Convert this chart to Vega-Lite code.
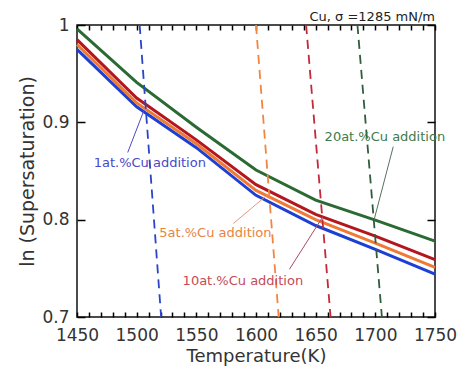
{
  "$schema": "https://vega.github.io/schema/vega-lite/v6.json",
  "width": 358,
  "height": 292,
  "autosize": "none",
  "padding": {"left": 77, "top": 25, "right": 28, "bottom": 54},
  "background": "white",
  "config": {
    "font": "DejaVu Sans",
    "view": {"stroke": "#111", "strokeWidth": 1.5},
    "axis": {"domain": false, "grid": false, "labelFlush": false, "labelOverlap": false}
  },
  "title": {
    "text": "Cu,  σ =1285 mN/m",
    "anchor": "end",
    "frame": "group",
    "fontSize": 13,
    "fontWeight": "normal",
    "color": "#222",
    "offset": -8
  },
  "datasets": {
    "curves": [
      {"s": "1", "T": 1450, "v": 0.975}, {"s": "1", "T": 1500, "v": 0.916}, {"s": "1", "T": 1550, "v": 0.874}, {"s": "1", "T": 1600, "v": 0.825}, {"s": "1", "T": 1650, "v": 0.794}, {"s": "1", "T": 1700, "v": 0.7695}, {"s": "1", "T": 1750, "v": 0.744},
      {"s": "5", "T": 1450, "v": 0.980}, {"s": "5", "T": 1500, "v": 0.920}, {"s": "5", "T": 1550, "v": 0.878}, {"s": "5", "T": 1600, "v": 0.830}, {"s": "5", "T": 1650, "v": 0.800}, {"s": "5", "T": 1700, "v": 0.776}, {"s": "5", "T": 1750, "v": 0.751},
      {"s": "10", "T": 1450, "v": 0.985}, {"s": "10", "T": 1500, "v": 0.925}, {"s": "10", "T": 1550, "v": 0.882}, {"s": "10", "T": 1600, "v": 0.836}, {"s": "10", "T": 1650, "v": 0.8055}, {"s": "10", "T": 1700, "v": 0.783}, {"s": "10", "T": 1750, "v": 0.759},
      {"s": "20", "T": 1450, "v": 0.996}, {"s": "20", "T": 1500, "v": 0.941}, {"s": "20", "T": 1550, "v": 0.895}, {"s": "20", "T": 1600, "v": 0.851}, {"s": "20", "T": 1650, "v": 0.820}, {"s": "20", "T": 1700, "v": 0.7995}, {"s": "20", "T": 1750, "v": 0.778}
    ],
    "dashed": [
      {"s": "1", "T": 1502.5, "v": 1.0}, {"s": "1", "T": 1520.5, "v": 0.7},
      {"s": "5", "T": 1600, "v": 1.0}, {"s": "5", "T": 1619, "v": 0.7},
      {"s": "10", "T": 1642, "v": 1.0}, {"s": "10", "T": 1662.5, "v": 0.7},
      {"s": "20", "T": 1685, "v": 1.0}, {"s": "20", "T": 1705.5, "v": 0.7}
    ],
    "leaders": [
      {"s": "1", "T": 1492.5, "v": 0.869, "T2": 1506, "v2": 0.912},
      {"s": "5", "T": 1581, "v": 0.796, "T2": 1610, "v2": 0.826},
      {"s": "10", "T": 1628, "v": 0.749, "T2": 1656, "v2": 0.803},
      {"s": "20", "T": 1715, "v": 0.875, "T2": 1699, "v2": 0.800}
    ],
    "labels": [
      {"s": "1", "T": 1511, "v": 0.858, "label": "1at.%Cu addition"},
      {"s": "5", "T": 1566, "v": 0.786, "label": "5at.%Cu addition"},
      {"s": "10", "T": 1589, "v": 0.7366, "label": "10at.%Cu addition"},
      {"s": "20", "T": 1708, "v": 0.8848, "label": "20at.%Cu addition"}
    ]
  },
  "layer": [
    {
      "data": {"name": "curves"},
      "mark": {"type": "line", "strokeCap": "butt"},
      "encoding": {
        "x": {
          "field": "T", "type": "quantitative",
          "scale": {"domain": [1450, 1750], "nice": false, "zero": false},
          "axis": {
            "orient": "bottom",
            "values": [1450,1460,1470,1480,1490,1500,1510,1520,1530,1540,1550,1560,1570,1580,1590,1600,1610,1620,1630,1640,1650,1660,1670,1680,1690,1700,1710,1720,1730,1740,1750],
            "tickSize": -5,
            "tickColor": "#000000",
            "tickWidth": 1.5,
            "labelPadding": 15,
            "labelFontSize": 17,
            "labelColor": "#333",
            "labelExpr": "datum.value % 50 == 0 ? format(datum.value, 'd') : ''",
            "title": "Temperature(K)",
            "titleFontSize": 18,
            "titleFontWeight": "normal",
            "titleColor": "#333",
            "titlePadding": 4
          }
        },
        "y": {
          "field": "v", "type": "quantitative",
          "scale": {"domain": [0.7, 1], "nice": false, "zero": false},
          "axis": {
            "orient": "left",
            "values": [0.7, 0.8, 0.9, 1],
            "tickSize": -8,
            "tickColor": "#000000",
            "tickWidth": 1.5,
            "labelPadding": 16,
            "labelFontSize": 17,
            "labelColor": "#333",
            "labelExpr": "datum.value >= 0.999 ? '1' : format(datum.value, '.1f')",
            "title": "ln (Supersaturation)",
            "titleFontSize": 19,
            "titleFontWeight": "normal",
            "titleColor": "#333",
            "titlePadding": 4
          }
        },
        "color": {
          "field": "s", "type": "nominal",
          "scale": {"domain": ["1", "5", "10", "20"], "range": ["#1d3fd4", "#ee7a35", "#b4161d", "#2b6a33"]},
          "legend": null
        },
        "strokeWidth": {
          "field": "s", "type": "nominal",
          "scale": {"domain": ["1", "5", "10", "20"], "range": [3, 3, 3, 2.2]},
          "legend": null
        }
      }
    },
    {
      "data": {"name": "dashed"},
      "mark": {"type": "line", "strokeWidth": 1.8, "strokeDash": [9, 6]},
      "encoding": {
        "x": {
          "field": "T", "type": "quantitative",
          "scale": {"domain": [1450, 1750], "nice": false, "zero": false},
          "axis": {
            "orient": "top",
            "values": [1450,1460,1470,1480,1490,1500,1510,1520,1530,1540,1550,1560,1570,1580,1590,1600,1610,1620,1630,1640,1650,1660,1670,1680,1690,1700,1710,1720,1730,1740,1750],
            "tickSize": -5,
            "tickColor": "#000000",
            "tickWidth": 1.5,
            "labels": false,
            "title": null
          }
        },
        "y": {
          "field": "v", "type": "quantitative",
          "scale": {"domain": [0.7, 1], "nice": false, "zero": false},
          "axis": {"orient": "right", "values": [0.7, 0.8, 0.9, 1], "tickSize": -8, "tickColor": "#000000", "tickWidth": 1.5, "labels": false, "title": null}
        },
        "detail": {"field": "s", "type": "nominal"},
        "color": {
          "field": "s", "type": "nominal",
          "scale": {"domain": ["1", "5", "10", "20"], "range": ["#2b45c8", "#f08640", "#c4283c", "#2f5e3c"]},
          "legend": null
        }
      }
    },
    {
      "data": {"name": "leaders"},
      "mark": {"type": "rule", "strokeWidth": 1},
      "encoding": {
        "x": {"field": "T", "type": "quantitative", "scale": {"domain": [1450, 1750], "nice": false, "zero": false}, "axis": null},
        "y": {"field": "v", "type": "quantitative", "scale": {"domain": [0.7, 1], "nice": false, "zero": false}, "axis": null},
        "x2": {"field": "T2"},
        "y2": {"field": "v2"},
        "color": {
          "field": "s", "type": "nominal",
          "scale": {"domain": ["1", "5", "10", "20"], "range": ["#4c4cc0", "#e7977a", "#a8486a", "#5a7060"]},
          "legend": null
        }
      }
    },
    {
      "data": {"name": "labels"},
      "mark": {"type": "text", "fontSize": 13, "align": "center", "baseline": "middle"},
      "encoding": {
        "x": {"field": "T", "type": "quantitative", "scale": {"domain": [1450, 1750], "nice": false, "zero": false}, "axis": null},
        "y": {"field": "v", "type": "quantitative", "scale": {"domain": [0.7, 1], "nice": false, "zero": false}, "axis": null},
        "text": {"field": "label", "type": "nominal"},
        "color": {
          "field": "s", "type": "nominal",
          "scale": {"domain": ["1", "5", "10", "20"], "range": ["#4848c8", "#e8833f", "#c64a58", "#3d7a4d"]},
          "legend": null
        }
      }
    }
  ],
  "resolve": {
    "scale": {"color": "independent", "strokeWidth": "independent"},
    "axis": {"x": "independent", "y": "independent"}
  }
}
